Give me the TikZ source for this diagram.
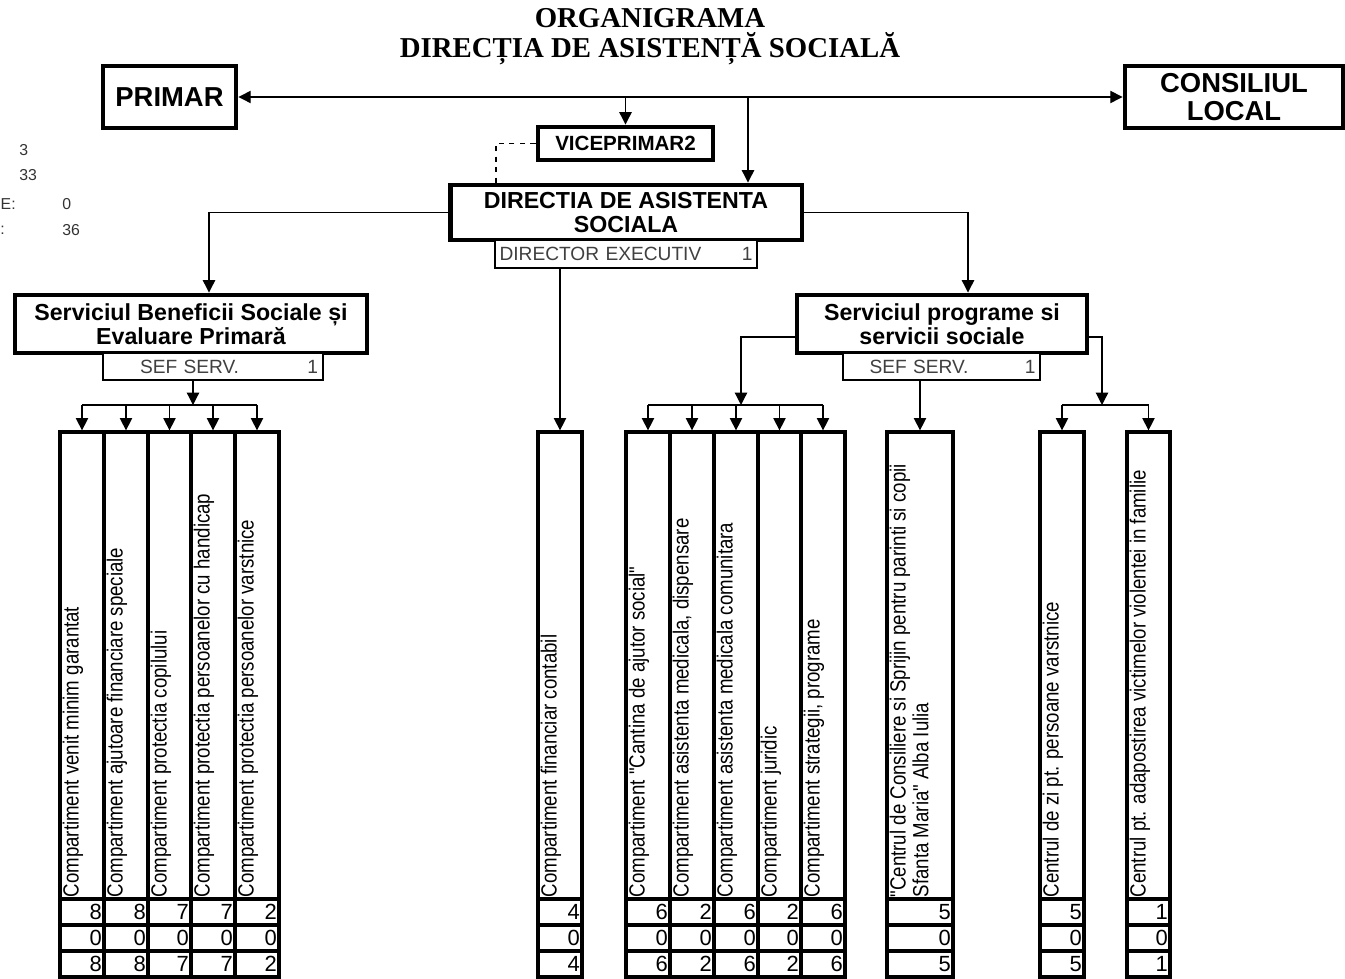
\documentclass[tikz,border=0pt]{standalone}
\usepackage{fontspec}
\setmainfont{Liberation Sans}
\newfontfamily\titlefont{Liberation Serif}
\newfontfamily\colfont[FakeStretch=0.85]{Liberation Sans}
\usetikzlibrary{arrows.meta,calc}

\begin{document}
\begin{tikzpicture}[
  x=0.02cm, y=-0.02cm,
  orgtitle/.style = {font=\titlefont\bfseries\fontsize{16.4}{17}\selectfont, align=center, inner sep=0pt},
  orgtop/.style = {draw, line width=2.8pt, font=\bfseries\fontsize{15.6}{16}\selectfont, align=center, inner sep=0pt},
  orgbox/.style = {draw, line width=2.8pt, font=\bfseries\fontsize{13.2}{13.6}\selectfont, align=center, inner sep=0pt},
  orgsub/.style = {draw, fill=white, line width=1.6pt, font=\fontsize{10.9}{12}\selectfont, text=black!75, inner sep=0pt},
  orgcol/.style = {draw, line width=1.9pt, minimum height=9.34cm, inner sep=0pt},
  orgtxt/.style = {rotate=90, anchor=north west, inner sep=0pt, align=left, font=\colfont\fontsize{12.5}{13}\selectfont},
  orgcell/.style = {draw, line width=1.9pt, minimum height=0.52cm, inner sep=0pt},
  orgnum/.style = {font=\fontsize{12.5}{13}\selectfont, inner sep=2pt},
  orgsum/.style = {font=\fontsize{9}{10}\selectfont, text=black!80, inner sep=0pt},
  orgline/.style = {line width=0.7pt},
  orgarrow/.style = {orgline, -{Triangle[length=7pt,width=7pt]}}
]
  \useasboundingbox (0,0) rectangle (1345,979);
  % titlu
  \node[orgtitle] (title) at (650,37) {ORGANIGRAMA\\DIRECȚIA DE ASISTENȚĂ SOCIALĂ};
  % rezumat posturi
  \node[orgsum, anchor=west] (sum1) at (19,150) {3};
  \node[orgsum, anchor=west] (sum2) at (19,175) {33};
  \node[orgsum, anchor=east] (sum3l) at (16,204) {ERE:};
  \node[orgsum, anchor=west] (sum3) at (62,204) {0};
  \node[orgsum, anchor=east] (sum4l) at (5,230) {:};
  \node[orgsum, anchor=west] (sum4) at (62,230) {36};
  % conducere
  \node[orgtop, minimum width=2.66cm, minimum height=1.24cm] (primar) at (169.5,97) {PRIMAR};
  \node[orgtop, minimum width=4.36cm, minimum height=1.24cm] (consiliu) at (1234,97) {CONSILIUL\\LOCAL};
  \node[orgbox, font=\bfseries\fontsize{11.7}{13}\selectfont, minimum width=3.5cm, minimum height=0.66cm] (vice) at (625.5,143.5) {VICEPRIMAR2};
  \node[orgbox, minimum width=7.04cm, minimum height=1.1cm] (das) at (626,212.5) {DIRECTIA DE ASISTENTA\\SOCIALA};
  \node[orgsub, minimum width=5.24cm, minimum height=0.56cm, text width=5.06cm] (direx) at (626,254) {DIRECTOR EXECUTIV\hfill 1};
  % servicii
  \node[orgbox, minimum width=7.04cm, minimum height=1.16cm] (sbs) at (191,324) {Serviciul Beneficii Sociale și\\Evaluare Primară};
  \node[orgsub, minimum width=4.4cm, minimum height=0.54cm, text width=4.2cm] (sef1) at (213,366.5) {\hspace{0.64cm}SEF SERV.\hfill 1};
  \node[orgbox, minimum width=5.8cm, minimum height=1.16cm] (spss) at (942,324) {Serviciul programe si\\servicii sociale};
  \node[orgsub, minimum width=3.94cm, minimum height=0.54cm, text width=3.76cm] (sef2) at (941.5,366.5) {\hspace{0.44cm}SEF SERV.\hfill 1};
  % compartimente
  \foreach \nm/\cx/\w/\txt/\nrA/\nrB/\nrC in {
    venit/82/44/{Compartiment venit minim garantat}/8/0/8,
    ajutoare/126/44/{Compartiment ajutoare financiare speciale}/8/0/8,
    copil/169.5/43/{Compartiment protectia copilului}/7/0/7,
    handicap/213/44/{Compartiment protectia persoanelor cu handicap}/7/0/7,
    varstnici/257/44/{Compartiment protectia persoanelor varstnice}/2/0/2,
    financiar/560/44/{Compartiment financiar contabil}/4/0/4,
    cantina/648/44/{Compartiment "Cantina de ajutor social"}/6/0/6,
    dispensare/692/44/{Compartiment asistenta medicala, dispensare}/2/0/2,
    comunitara/736/44/{Compartiment asistenta medicala comunitara}/6/0/6,
    juridic/779.5/43/{Compartiment juridic}/2/0/2,
    strategii/823/44/{Compartiment strategii, programe}/6/0/6,
    consiliere/920/66/{"Centrul de Consiliere si Sprijin pentru parinti si copii\\Sfanta Maria" Alba Iulia}/5/0/5,
    zi/1062/44/{Centrul de zi pt. persoane varstnice}/5/0/5,
    adapost/1148.5/43/{Centrul pt. adapostirea victimelor violentei in familie}/1/0/1}
  {
    \node[orgcol, minimum width=\w*0.02cm] (\nm) at (\cx,665.5) {};
    \node[orgtxt] (\nm-t) at ($(\nm.south west)+(4,-3)$) {\txt};
    \node[orgcell, minimum width=\w*0.02cm, label={[orgnum, anchor=east]east:\nrA}] (\nm-a) at (\cx,912) {};
    \node[orgcell, minimum width=\w*0.02cm, label={[orgnum, anchor=east]east:\nrB}] (\nm-b) at (\cx,938) {};
    \node[orgcell, minimum width=\w*0.02cm, label={[orgnum, anchor=east]east:\nrC}] (\nm-c) at (\cx,964) {};
  }
  % legaturi
  \draw[orgline, {Triangle[length=7pt,width=7pt]}-{Triangle[length=7pt,width=7pt]}] (primar) -- (consiliu);
  \draw[orgarrow] (vice.north |- primar.east) -- (vice.north);
  \coordinate (hub) at (748,97);
  \draw[orgarrow] (hub) -- (hub |- das.north);
  \draw[orgline, dashed] (vice.west) -| ($(das.north)+(-130,0)$);
  \draw[orgarrow] (das.west) -| ($(sbs.north)+(18,0)$);
  \draw[orgarrow] (das.east) -| ($(spss.north)+(26,0)$);
  \draw[orgarrow] (financiar.north |- direx.south) -- (financiar.north);
  \coordinate (bus1) at (193,405);
  \draw[orgarrow] (bus1 |- sef1.south) -- (bus1);
  \draw[orgline] (venit.north |- bus1) -- (varstnici.north |- bus1);
  \foreach \nm in {venit,ajutoare,copil,handicap,varstnici}
    \draw[orgarrow] (\nm.north |- bus1) -- (\nm.north);
  \coordinate (bus2) at (741,405);
  \draw[orgarrow] ($(spss.west)+(0,13)$) -| (bus2);
  \draw[orgline] (cantina.north |- bus2) -- (strategii.north |- bus2);
  \foreach \nm in {cantina,dispensare,comunitara,juridic,strategii}
    \draw[orgarrow] (\nm.north |- bus2) -- (\nm.north);
  \draw[orgarrow] (consiliere.north |- sef2.south) -- (consiliere.north);
  \coordinate (bus3) at (1102,405);
  \draw[orgarrow] ($(spss.east)+(0,13)$) -| (bus3);
  \draw[orgline] (zi.north |- bus3) -- (adapost.north |- bus3);
  \foreach \nm in {zi,adapost}
    \draw[orgarrow] (\nm.north |- bus3) -- (\nm.north);
\end{tikzpicture}
\end{document}
